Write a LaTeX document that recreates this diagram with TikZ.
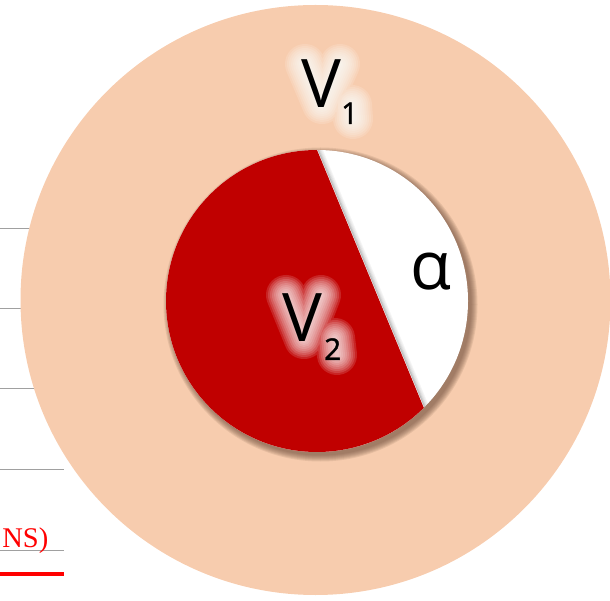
\documentclass[tikz,border=0pt]{standalone}
\usepackage{fontspec}
\setmainfont{Liberation Serif}
\newfontfamily\labfont{Open Sans}
\newfontfamily\subfont[FakeBold=1.2]{Open Sans}
\usetikzlibrary{calc}
\definecolor{peach}{HTML}{F7CCAE}
\definecolor{dred}{HTML}{C00000}
\definecolor{shadowcol}{HTML}{6B4A38}
\definecolor{rulegray}{HTML}{A0A0A0}
\tikzset{
  rulegrey/.style={draw=rulegray, line width=1pt},
  redrule/.style={draw=red, line width=3.5pt},
  biglabel/.style={inner sep=0pt, anchor=base west, font=\labfont\fontsize{67}{67}\selectfont},
  glowstroke/.style={draw=white, draw opacity=0.14, line cap=round, line join=round},
}
\newcommand{\glowpath}[1]{%
  \foreach \ww in {4,8,12,16,20,24,28,32,36,40}{
    \draw[glowstroke, line width=\ww pt] #1;
  }
}
\begin{document}
\begin{tikzpicture}[x=1pt,y=1pt]
\useasboundingbox (0,0) rectangle (610,600);
% left rules
\coordinate (l1a) at (0,371); \coordinate (l1b) at (64,371);
\coordinate (l2a) at (0,291); \coordinate (l2b) at (64,291);
\coordinate (l3a) at (0,211); \coordinate (l3b) at (64,211);
\coordinate (l4a) at (0,131); \coordinate (l4b) at (64,131);
\coordinate (l5a) at (0,50);  \coordinate (l5b) at (64,50);
\coordinate (r1a) at (0,26);  \coordinate (r1b) at (64,26);
\draw[rulegrey] (l1a) -- (l1b);
\draw[rulegrey] (l2a) -- (l2b);
\draw[rulegrey] (l3a) -- (l3b);
\draw[rulegrey] (l4a) -- (l4b);
\draw[rulegrey] (l5a) -- (l5b);
\draw[redrule] (r1a) -- (r1b);
\node[inner sep=0pt, anchor=base east, text=red, font=\fontsize{28.5}{28.5}\selectfont] (ns) at (48.5,53) {NS)};
% outer circle
\coordinate (oc) at (315.5,300);
\fill[peach] (oc) circle[radius=295];
% inner circle with shadow
\coordinate (ic) at (317,299);
\coordinate (sc) at (320.5,295.5);
\foreach \rr in {157,156,155,154,153,152,151}{
  \fill[shadowcol, opacity=0.12] (sc) circle[radius=\rr];
}
\fill[white] (ic) circle[radius=151];
\begin{scope}
  \clip (ic) circle[radius=151];
  \foreach \dd/\op in {1/0.25,2/0.17,3/0.11,4/0.07,5/0.04}{
    \draw[black, opacity=\op, line width=1pt] ($(ic)+(90:151)+(\dd*0.924,\dd*0.383)$) -- ++(120,-289.6);
  }
\end{scope}
\fill[dred] (ic) ++(90:151) arc[start angle=90, end angle=315, radius=151] -- cycle;
% glows
\glowpath{(305,536) -- (322,496) -- (340,536) (352,495) -- (353,481)}
\glowpath{(286,305) -- (304,261) -- (321,305) (335,262) -- (337,245)}
% labels
\coordinate (p1) at (301,492);
\coordinate (p2) at (282,258);
\node[biglabel] (v1) at (p1) {V\raisebox{-16pt}{\subfont\fontsize{30}{30}\selectfont 1}};
\node[biglabel] (v2) at (p2) {V\kern2pt\raisebox{-18pt}{\subfont\fontsize{30}{30}\selectfont 2}};
\node[biglabel] (alpha) at (410,310) {α};
\end{tikzpicture}
\end{document}
